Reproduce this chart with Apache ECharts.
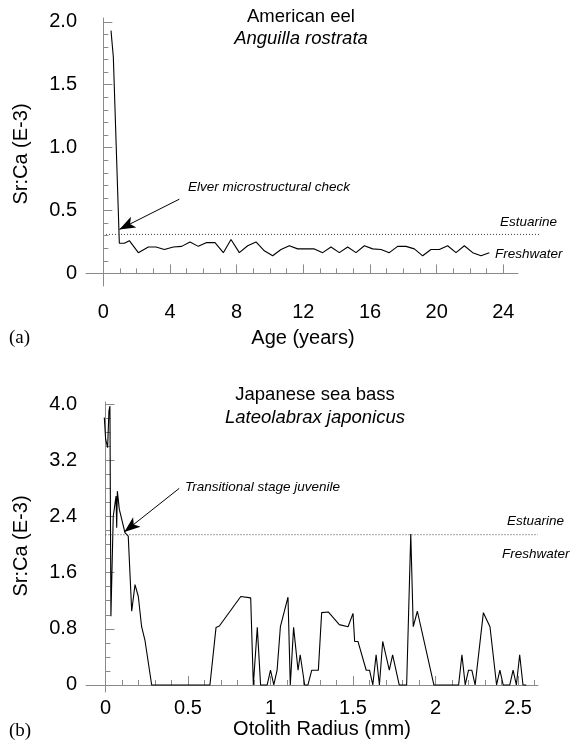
<!DOCTYPE html>
<html>
<head>
<meta charset="utf-8">
<script src="https://cdn.jsdelivr.net/npm/echarts@6.0.0/dist/echarts.min.js"></script>
<style>
  html, body { margin: 0; padding: 0; background: #fff; }
  #main { width: 578px; height: 742px; }
</style>
</head>
<body>
<div id="main"></div>
<script>
// (a) American eel - Sr:Ca vs age
var eelAge = [0.46, 0.6, 0.96, 1.26, 1.56, 2.1, 2.7, 3.16, 3.66, 4.2, 4.7, 5.2, 5.7, 6.2, 6.7, 7.2, 7.66, 8.16, 8.66, 9.16, 9.66, 10.16, 10.66, 11.16, 11.66, 12.16, 12.66, 13.16, 13.66, 14.16, 14.66, 15.16, 15.66, 16.16, 16.66, 17.16, 17.66, 18.16, 18.66, 19.16, 19.66, 20.16, 20.66, 21.16, 21.66, 22.16, 22.66, 23.16];
var eelSrCa = [1.93, 1.72, 0.24, 0.24, 0.26, 0.165, 0.21, 0.21, 0.19, 0.21, 0.215, 0.25, 0.215, 0.245, 0.245, 0.165, 0.27, 0.165, 0.22, 0.25, 0.18, 0.14, 0.19, 0.22, 0.195, 0.195, 0.195, 0.165, 0.21, 0.165, 0.21, 0.165, 0.22, 0.195, 0.19, 0.165, 0.215, 0.215, 0.195, 0.14, 0.19, 0.19, 0.22, 0.165, 0.22, 0.165, 0.14, 0.165];
var eelThreshold = 0.31;
var eelXTicks = [0, 4, 8, 12, 16, 20, 24];
var eelYTicks = [0, 0.5, 1.0, 1.5, 2.0];

// (b) Japanese sea bass - Sr:Ca vs otolith radius
var bassRadius = [-0.007, 0.001, 0.013, 0.021, 0.027, 0.033, 0.041, 0.047, 0.056, 0.064, 0.068, 0.072, 0.084, 0.118, 0.138, 0.159, 0.179, 0.199, 0.219, 0.239, 0.28, 0.633, 0.67, 0.69, 0.82, 0.88, 0.896, 0.92, 0.94, 0.98, 1.00, 1.02, 1.04, 1.06, 1.106, 1.12, 1.14, 1.167, 1.18, 1.207, 1.227, 1.25, 1.29, 1.31, 1.35, 1.417, 1.47, 1.50, 1.51, 1.53, 1.58, 1.60, 1.62, 1.64, 1.66, 1.68, 1.72, 1.74, 1.78, 1.825, 1.85, 1.865, 1.89, 1.99, 2.14, 2.16, 2.18, 2.20, 2.22, 2.24, 2.29, 2.33, 2.37, 2.39, 2.41, 2.45, 2.47, 2.49, 2.51, 2.53, 2.55];
var bassSrCa = [3.81, 3.50, 3.38, 3.90, 3.97, 0.98, 0.98, 2.40, 2.42, 2.69, 2.24, 2.76, 2.50, 2.17, 2.12, 1.05, 1.43, 1.26, 0.83, 0.64, 0, 0, 0.82, 0.84, 1.26, 1.24, 0, 0.82, 0, 0, 0.21, 0, 0.21, 0.83, 1.25, 0, 0.82, 0.21, 0.43, 0, 0, 0.21, 0.21, 1.03, 1.04, 0.86, 0.83, 1.02, 0.62, 0.62, 0.21, 0.21, 0, 0.43, 0, 0.62, 0.21, 0.43, 0, 0, 2.15, 0.83, 1.05, 0, 0, 0.43, 0, 0.21, 0.21, 0, 1.03, 0.83, 0, 0.21, 0, 0, 0.21, 0, 0.43, 0, 0];
var bassThreshold = 2.14;
var bassXTicks = [0, 0.5, 1, 1.5, 2, 2.5];
var bassYTicks = [0, 0.8, 1.6, 2.4, 3.2, 4.0];

var chart = echarts.init(document.getElementById('main'));

function zip(xs, ys) {
    var out = [];
    for (var i = 0; i < xs.length; i++) out.push([xs[i], ys[i]]);
    return out;
}
function steps(from, to, step) {
    var out = [];
    for (var v = from; v <= to + 1e-9; v += step) out.push(Math.round(v * 100) / 100);
    return out;
}
function yFmt(v) { return v === 0 ? '0' : v.toFixed(1); }

var axisGray = '#8a8a8a';
var labelFont = { color: '#000', fontSize: 20, fontFamily: 'Liberation Sans' };

function mainAxis(grid, min, max, ticks, fmt, isY, margin) {
    return {
        type: 'value', gridIndex: grid, min: min, max: max,
        position: isY ? 'left' : 'bottom',
        splitLine: { show: false },
        axisLine: { show: true, lineStyle: { color: axisGray, width: 1 } },
        axisTick: { show: true, inside: true, length: 9, customValues: ticks, lineStyle: { color: axisGray } },
        axisLabel: Object.assign({ customValues: ticks, formatter: fmt, margin: margin }, labelFont)
    };
}
function minorAxis(grid, min, max, ticks, isY) {
    return {
        type: 'value', gridIndex: grid, min: min, max: max,
        position: isY ? 'left' : 'bottom',
        splitLine: { show: false },
        axisLine: { show: false },
        axisTick: { show: true, inside: true, length: 5, customValues: ticks, lineStyle: { color: axisGray } },
        axisLabel: { show: false }
    };
}
function hiddenAxis(grid, min, max) {
    return { type: 'value', gridIndex: grid, min: min, max: max, show: false, splitLine: { show: false } };
}

var dotted = { color: '#444', width: 1, type: [1, 2] };
var annoFont = { fontSize: 13.5, fontStyle: 'italic', fontFamily: 'Liberation Sans', fill: '#000' };
var titleFont = { fontSize: 18.5, fontFamily: 'Liberation Sans', fill: '#000' };
var nameFont = { fontSize: 20, fontFamily: 'Liberation Sans', fill: '#000' };
var panelFont = { fontSize: 19, fontFamily: 'Liberation Serif', fill: '#000' };

function txt(x, y, text, style, align, rot) {
    return {
        type: 'text', x: x, y: y, rotation: rot || 0,
        style: Object.assign({ text: text, textAlign: align || 'left', textVerticalAlign: 'middle' }, style)
    };
}
function italic(style) { return Object.assign({ fontStyle: 'italic' }, style); }

chart.setOption({
    animation: false,
    backgroundColor: '#fff',
    grid: [
        { left: 86, top: 18, width: 432, height: 268 },
        { left: 86, top: 18, width: 453, height: 268 },
        { left: 86, top: 402, width: 452, height: 290 }
    ],
    xAxis: [
        mainAxis(0, -1.04, 24.88, eelXTicks, function (v) { return String(v); }, false, 16),
        minorAxis(0, -1.04, 24.88, steps(0, 24, 1), false),
        hiddenAxis(1, -1.04, 26.14),
        mainAxis(2, -0.118, 2.621, bassXTicks, function (v) { return String(v); }, false, 6),
        minorAxis(2, -0.118, 2.621, steps(0, 2.6, 0.1), false)
    ],
    yAxis: [
        mainAxis(0, -0.1, 2.03, eelYTicks, yFmt, true, 9),
        minorAxis(0, -0.1, 2.03, steps(0, 2.0, 0.1), true),
        hiddenAxis(1, -0.1, 2.03),
        mainAxis(2, -0.1, 4.03, bassYTicks, yFmt, true, 9),
        minorAxis(2, -0.1, 4.03, steps(0, 4.0, 0.2), true)
    ],
    series: [
        {
            type: 'line', xAxisIndex: 0, yAxisIndex: 0,
            data: zip(eelAge, eelSrCa), symbol: 'none',
            lineStyle: { color: '#000', width: 1.1 },
            markLine: {
                silent: true, symbol: ['none', 'arrow'], symbolSize: [9, 16],
                label: { show: false },
                lineStyle: { color: '#000', width: 1, type: 'solid' },
                data: [[{ coord: [4.56, 0.59] }, { coord: [0.96, 0.35] }]]
            }
        },
        {
            type: 'line', xAxisIndex: 2, yAxisIndex: 2,
            data: [[0.16, eelThreshold], [26.14, eelThreshold]], symbol: 'none',
            lineStyle: dotted
        },
        {
            type: 'line', xAxisIndex: 3, yAxisIndex: 3,
            data: zip(bassRadius, bassSrCa), symbol: 'none',
            lineStyle: { color: '#000', width: 1.1 },
            markLine: {
                silent: true, symbol: ['none', 'arrow'], symbolSize: [9, 16],
                label: { show: false },
                lineStyle: { color: '#000', width: 1, type: 'solid' },
                data: [[{ coord: [0.447, 2.80] }, { coord: [0.114, 2.18] }]]
            }
        },
        {
            type: 'line', xAxisIndex: 3, yAxisIndex: 3,
            data: [[0, bassThreshold], [2.62, bassThreshold]], symbol: 'none',
            lineStyle: dotted
        }
    ],
    graphic: [
        txt(301, 17, 'American eel', titleFont, 'center'),
        txt(301, 39, 'Anguilla rostrata', italic(titleFont), 'center'),
        txt(188, 187, 'Elver microstructural check', annoFont),
        txt(500, 222, 'Estuarine', annoFont),
        txt(495, 254, 'Freshwater', annoFont),
        txt(21, 154, 'Sr:Ca (E-3)', nameFont, 'center', Math.PI / 2),
        txt(303, 338, 'Age (years)', nameFont, 'center'),
        txt(9, 338, '(a)', panelFont),

        txt(315, 395, 'Japanese sea bass', titleFont, 'center'),
        txt(315, 418, 'Lateolabrax japonicus', italic(titleFont), 'center'),
        txt(185, 487, 'Transitional stage juvenile', annoFont),
        txt(507, 521, 'Estuarine', annoFont),
        txt(502, 554, 'Freshwater', annoFont),
        txt(21, 546, 'Sr:Ca (E-3)', nameFont, 'center', Math.PI / 2),
        txt(322, 729, 'Otolith Radius (mm)', nameFont, 'center'),
        txt(9, 731, '(b)', panelFont)
    ]
});
</script>
</body>
</html>
